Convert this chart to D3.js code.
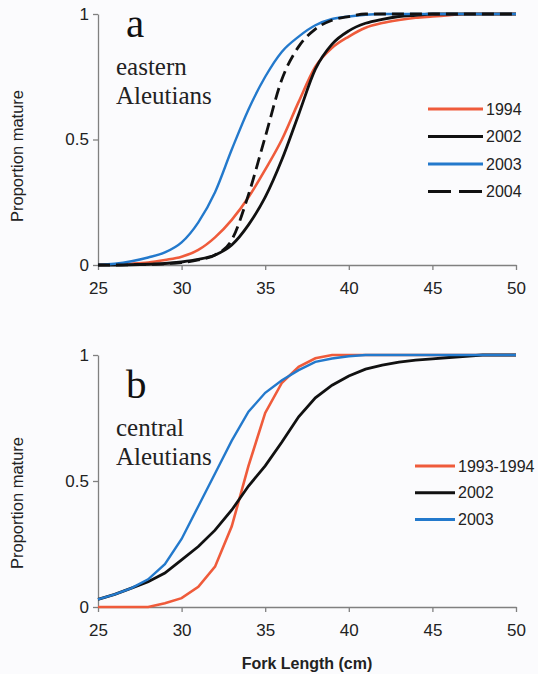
<!DOCTYPE html>
<html>
<head>
<meta charset="utf-8">
<script src="https://cdn.jsdelivr.net/npm/d3@7"></script>
<style>
  body { margin: 0; background: #fbfbfd; }
  .tick text { font-family: "Liberation Sans", Arial, sans-serif; font-size: 17px; fill: #222; }
  .domain, .tick line { stroke: #808080; stroke-width: 1.3; }
</style>
</head>
<body>
<div id="chart"></div>
<script>
// Fork length (cm), one value per cm
var lengths = [25, 26, 27, 28, 29, 30, 31, 32, 33, 34, 35, 36, 37, 38, 39, 40, 41, 42, 43, 44, 45, 46, 47, 48, 49, 50];

// panel a - eastern Aleutians
var east1994 = [0, 0.002, 0.005, 0.01, 0.02, 0.033, 0.06, 0.11, 0.18, 0.27, 0.38, 0.5, 0.65, 0.79, 0.865, 0.91, 0.945, 0.964, 0.976, 0.985, 0.99, 0.995, 1, 1, 1, 1];
var east2002 = [0, 0, 0.001, 0.003, 0.006, 0.012, 0.022, 0.04, 0.08, 0.16, 0.27, 0.42, 0.6, 0.78, 0.88, 0.933, 0.963, 0.979, 0.99, 0.995, 1, 1, 1, 1, 1, 1];
var east2003 = [0, 0.005, 0.015, 0.03, 0.05, 0.09, 0.17, 0.29, 0.46, 0.62, 0.75, 0.85, 0.91, 0.955, 0.98, 0.99, 0.997, 1, 1, 1, 1, 1, 1, 1, 1, 1];
var east2004 = [0, 0, 0.001, 0.002, 0.005, 0.01, 0.02, 0.04, 0.1, 0.28, 0.51, 0.74, 0.87, 0.94, 0.975, 0.99, 1, 1, 1, 1, 1, 1, 1, 1, 1, 1];

// panel b - central Aleutians
var central9394 = [0, 0, 0, 0, 0.015, 0.035, 0.08, 0.16, 0.32, 0.56, 0.77, 0.89, 0.953, 0.987, 1, 1, 1, 1, 1, 1, 1, 1, 1, 1, 1, 1];
var central2002 = [0.03, 0.05, 0.075, 0.1, 0.135, 0.187, 0.24, 0.305, 0.385, 0.48, 0.56, 0.655, 0.755, 0.83, 0.88, 0.917, 0.944, 0.96, 0.972, 0.98, 0.985, 0.99, 0.995, 1, 1, 1];
var central2003 = [0.03, 0.05, 0.075, 0.11, 0.17, 0.27, 0.4, 0.53, 0.66, 0.775, 0.85, 0.9, 0.94, 0.973, 0.986, 0.995, 1, 1, 1, 1, 1, 1, 1, 1, 1, 1];

var xTicks = [25, 30, 35, 40, 45, 50];
var yTicks = [0, 0.5, 1];

var labelsA = ["1994", "2002", "2003", "2004"];
var labelsB = ["1993-1994", "2002", "2003"];

var svgWidth = 538;
var svgHeight = 674;

var margin = { left: 98, right: 22 };
var chartWidth = svgWidth - margin.left - margin.right;

var red = "#ef5b3b", blue = "#2379cc", black = "#111";

var svg = d3.select("#chart")
    .append("svg")
    .attr("width", svgWidth)
    .attr("height", svgHeight);

var xScale = d3.scaleLinear().domain([25, 50]).range([0, chartWidth]);

function drawPanel(opts) {
    var chartHeight = opts.height;
    var g = svg.append("g")
        .attr("transform", `translate(${margin.left},${opts.top})`);

    var yScale = d3.scaleLinear().domain([0, 1]).range([chartHeight, 0]);

    g.append("g")
        .attr("transform", `translate(0,${chartHeight})`)
        .call(d3.axisBottom(xScale).tickValues(xTicks).tickSize(5).tickSizeOuter(0).tickPadding(12));

    g.append("g")
        .call(d3.axisLeft(yScale).tickValues(yTicks).tickFormat(d3.format("")).tickSize(5).tickSizeOuter(0).tickPadding(4));

    var line = d3.line()
        .x((d, i) => xScale(lengths[i]))
        .y(d => yScale(d))
        .curve(opts.curve);

    opts.series.forEach(function (s) {
        g.append("path")
            .datum(s.values)
            .attr("fill", "none")
            .attr("stroke", s.color)
            .attr("stroke-width", s.width)
            .attr("stroke-dasharray", s.dash || null)
            .attr("d", line);
    });

    // panel letter and region
    g.append("text")
        .attr("x", 28).attr("y", opts.letterY)
        .style("font-family", "'Liberation Serif', 'Times New Roman', serif")
        .style("font-size", "41px")
        .attr("fill", "#111")
        .text(opts.letter);

    opts.region.forEach(function (t, i) {
        g.append("text")
            .attr("x", 18).attr("y", opts.regionY + i * 29)
            .style("font-family", "'Liberation Serif', 'Times New Roman', serif")
            .style("font-size", "25px")
            .attr("fill", "#222")
            .text(t);
    });

    // legend
    var leg = g.append("g")
        .attr("transform", `translate(${opts.legX},${opts.legY})`);
    opts.series.forEach(function (s, i) {
        leg.append("line")
            .attr("x1", 0).attr("x2", opts.legLen)
            .attr("y1", i * opts.legStep).attr("y2", i * opts.legStep)
            .attr("stroke", s.color)
            .attr("stroke-width", 3)
            .attr("stroke-dasharray", s.dash ? "23,8" : null);
        leg.append("text")
            .attr("x", opts.legLen + 3)
            .attr("y", i * opts.legStep)
            .attr("dy", "0.36em")
            .style("font-family", "'Liberation Sans', Arial, sans-serif")
            .style("font-size", "16px")
            .attr("fill", "#222")
            .text(opts.labels[i]);
    });

    // y axis title
    svg.append("text")
        .attr("transform", `translate(23,${opts.top + opts.titleY}) rotate(-90)`)
        .attr("text-anchor", "middle")
        .style("font-family", "'Liberation Sans', Arial, sans-serif")
        .style("font-size", "16.5px")
        .attr("fill", "#222")
        .text("Proportion mature");
}

drawPanel({
    top: 14, height: 251, curve: d3.curveMonotoneX,
    letter: "a", letterY: 23, region: ["eastern", "Aleutians"], regionY: 61,
    legX: 330, legY: 95, legLen: 55, legStep: 27.5, labels: labelsA, titleY: 142,
    series: [
        { values: east1994, color: red, width: 2.6 },
        { values: east2002, color: black, width: 2.8 },
        { values: east2003, color: blue, width: 2.4 },
        { values: east2004, color: black, width: 2.8, dash: "12,6" }
    ]
});

drawPanel({
    top: 355, height: 252, curve: d3.curveLinear,
    letter: "b", letterY: 43, region: ["central", "Aleutians"], regionY: 81,
    legX: 317, legY: 111, legLen: 40, legStep: 26.7, labels: labelsB, titleY: 148,
    series: [
        { values: central9394, color: red, width: 2.6 },
        { values: central2002, color: black, width: 2.8 },
        { values: central2003, color: blue, width: 2.4 }
    ]
});

svg.append("text")
    .attr("x", margin.left + chartWidth / 2)
    .attr("y", 669)
    .attr("text-anchor", "middle")
    .style("font-family", "'Liberation Sans', Arial, sans-serif")
    .style("font-size", "16px")
    .style("font-weight", "bold")
    .attr("fill", "#222")
    .text("Fork Length (cm)");
</script>
</body>
</html>
